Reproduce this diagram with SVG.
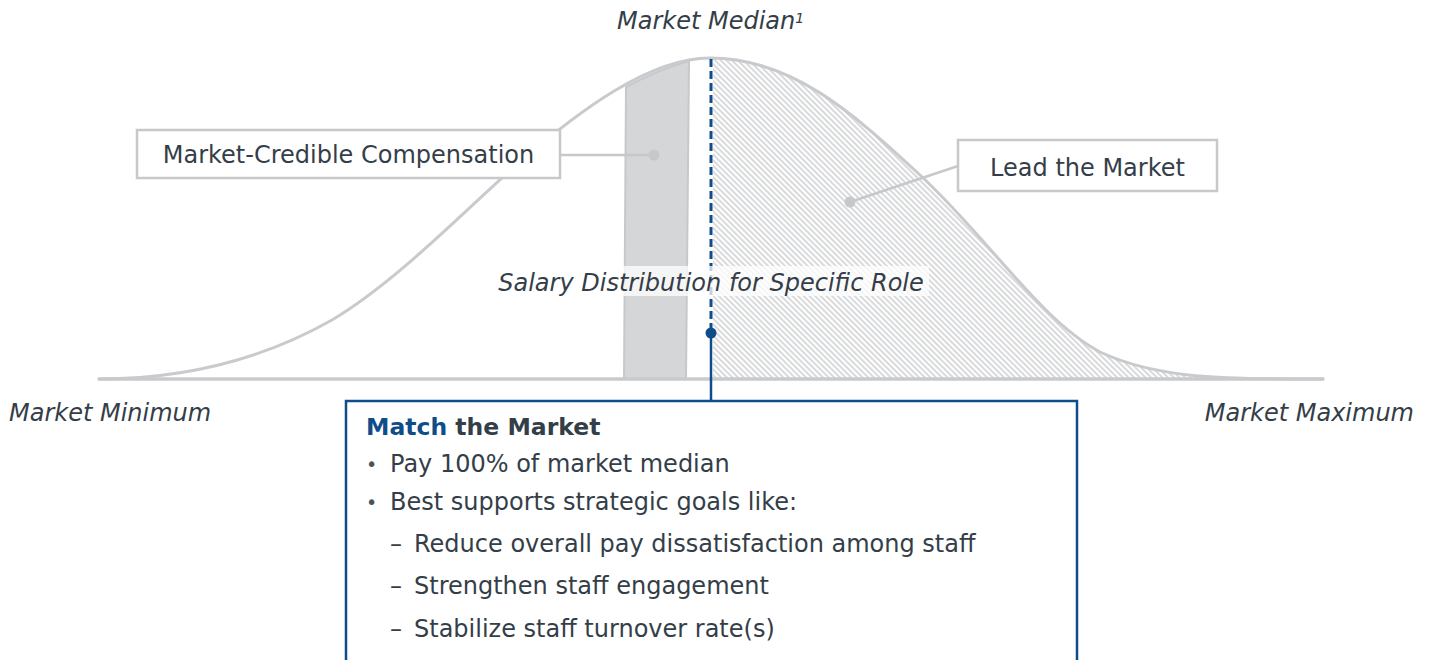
<svg xmlns="http://www.w3.org/2000/svg" width="1432" height="660" viewBox="0 0 1432 660">
  <style>
    .txt { font-family: "DejaVu Sans", Verdana, sans-serif; font-size: 24px; fill: #343e48; }
    .ital { font-style: italic; }
    .bold { font-weight: bold; font-size: 23.5px; }
    .blue { fill: #0f4d8a; }
    .bullet { font-size: 19px; fill: #4a535c; }
    .label-box { fill: #ffffff; stroke: #c6c8cb; stroke-width: 2.5; }
    .leader { stroke: #c6c8cb; stroke-width: 2.5; fill: none; }
    .leader-dot { fill: #c6c8cb; }
    .curve { fill: none; stroke: #c8cacd; stroke-width: 3; }
  </style>
  <defs>
    <pattern id="hatch" width="4" height="4" patternUnits="userSpaceOnUse" patternTransform="rotate(45)">
      <rect width="4" height="4" fill="#ffffff"/>
      <line x1="0" y1="1" x2="4" y2="1" stroke="#c9cbce" stroke-width="1.4"/>
    </pattern>
    <clipPath id="right-half">
      <rect x="713" y="40" width="700" height="340"/>
    </clipPath>
  </defs>

  <rect width="1432" height="660" fill="#ffffff"/>

  <!-- distribution area -->
  <g id="distribution">
    <!-- hatched area above the median -->
    <path d="M98,379 C190,379 265,358 332,320 C398,281 470,205 520,162 C580,110 650,58 710,58 C790,58 850,110 920,175 C990,240 1040,320 1100,352 C1160,380 1230,379 1324,379 Z"
          fill="url(#hatch)" clip-path="url(#right-half)"/>
    <!-- market-credible band -->
    <path d="M624,379 L626,87 Q657,70 689,61 L686,379 Z" fill="#d5d6d8" stroke="#c6c8cb" stroke-width="2"/>
    <!-- curve outline -->
    <path class="curve" d="M98,379 C190,379 265,358 332,320 C398,281 470,205 520,162 C580,110 650,58 710,58 C790,58 850,110 920,175 C990,240 1040,320 1100,352 C1160,380 1230,379 1324,379"/>
    <!-- axis -->
    <line x1="99" y1="379" x2="1323" y2="379" stroke="#c8cacd" stroke-width="3.5" stroke-linecap="round"/>
  </g>

  <!-- connectors -->
  <g id="connectors">
    <line x1="711" y1="59" x2="711" y2="333" stroke="#0f4d8a" stroke-width="3" stroke-dasharray="8 4"/>
    <line x1="711" y1="333" x2="711" y2="401" stroke="#0f4d8a" stroke-width="2.5"/>
    <circle cx="711" cy="333" r="5.5" fill="#0f4d8a"/>
    <line class="leader" x1="560" y1="155" x2="654" y2="155"/>
    <circle class="leader-dot" cx="654" cy="155" r="5.5"/>
    <line class="leader" x1="958" y1="166" x2="850" y2="202"/>
    <circle class="leader-dot" cx="850" cy="202" r="5.5"/>
  </g>

  <!-- curve title -->
  <g id="curve-title">
    <rect x="493" y="266" width="436" height="30" fill="#ffffff" fill-opacity="0.75"/>
    <text class="txt ital" x="711" y="291" text-anchor="middle">Salary Distribution for Specific Role</text>
  </g>

  <!-- axis labels -->
  <g id="label-median">
    <text class="txt ital" x="617" y="29">Market Median<tspan font-size="14" dy="-6">1</tspan></text>
  </g>
  <g id="label-minimum">
    <text class="txt ital" x="9" y="421">Market Minimum</text>
  </g>
  <g id="label-maximum">
    <text class="txt ital" x="1414" y="421" text-anchor="end">Market Maximum</text>
  </g>

  <!-- callout boxes -->
  <g id="node-credible">
    <rect class="label-box" x="137" y="130" width="423" height="48"/>
    <text class="txt" x="348.5" y="163" text-anchor="middle">Market-Credible Compensation</text>
  </g>
  <g id="node-lead">
    <rect class="label-box" x="958" y="140" width="259" height="51"/>
    <text class="txt" x="1087.5" y="176" text-anchor="middle">Lead the Market</text>
  </g>

  <g id="node-match">
    <rect x="346" y="401" width="731" height="300" fill="#ffffff" stroke="#0f4d8a" stroke-width="2.5"/>
    <text class="txt bold" x="366" y="435"><tspan class="blue">Match</tspan> the Market</text>
    <text class="txt bullet" x="366" y="471">•</text>
    <text class="txt" x="390" y="472">Pay 100% of market median</text>
    <text class="txt bullet" x="366" y="509">•</text>
    <text class="txt" x="390" y="510">Best supports strategic goals like:</text>
    <text class="txt" x="390" y="552">–</text>
    <text class="txt" x="414" y="552">Reduce overall pay dissatisfaction among staff</text>
    <text class="txt" x="390" y="594">–</text>
    <text class="txt" x="414" y="594">Strengthen staff engagement</text>
    <text class="txt" x="390" y="637">–</text>
    <text class="txt" x="414" y="637">Stabilize staff turnover rate(s)</text>
  </g>
</svg>
